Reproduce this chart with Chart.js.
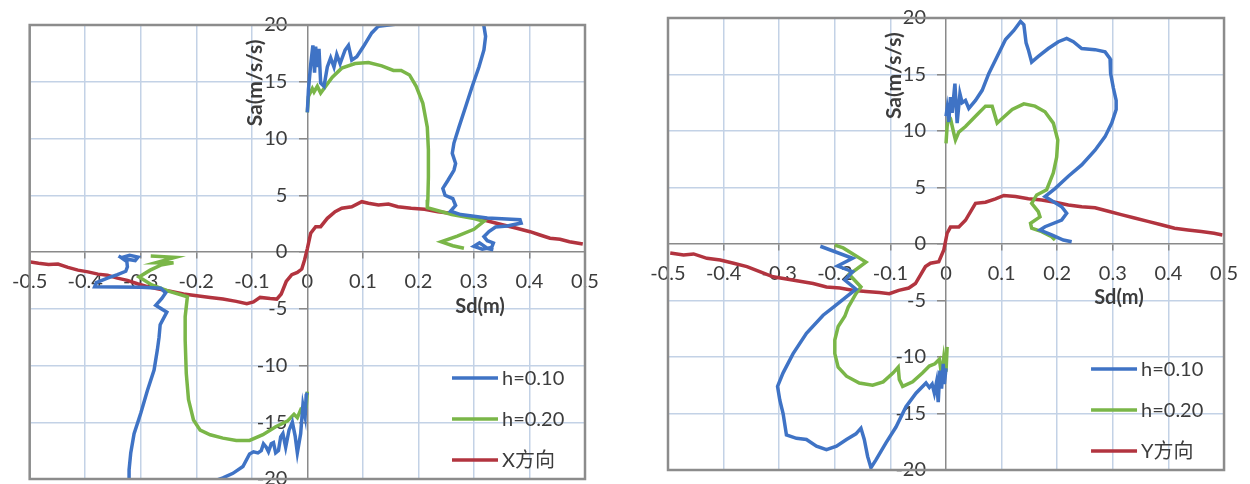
<!DOCTYPE html>
<html>
<head>
<meta charset="utf-8">
<script src="https://cdn.jsdelivr.net/npm/chart.js@4/dist/chart.umd.min.js"></script>
<style>
  html, body { margin: 0; padding: 0; background: #fff; overflow: hidden; width: 1250px; height: 484px; }
  .panel { position: absolute; top: 0; width: 625px; height: 500px; }
  #panelX { left: 0; }
  #panelY { left: 625px; }
</style>
</head>
<body>
<div class="panel" id="panelX"><canvas id="chartX" width="625" height="500"></canvas></div>
<div class="panel" id="panelY"><canvas id="chartY" width="625" height="500"></canvas></div>
<script>
// ---- axis text ----
const xTickLabels = ['-0.5', '-0.4', '-0.3', '-0.2', '-0.1', '0', '0.1', '0.2', '0.3', '0.4', '0.5'];
const yTickLabels = ['-20', '-15', '-10', '-5', '0', '5', '10', '15', '20'];
const sdTitle = 'Sd(m)';
const saTitle = 'Sa(m/s/s)';
const seriesNamesX = ['h=0.10', 'h=0.20', 'X方向'];
const seriesNamesY = ['h=0.10', 'h=0.20', 'Y方向'];

// ---- X direction: demand spectra [Sd (m), Sa (m/s/s)] ----
const xH010Pos = [[0.000,12.3],[0.002,14.3],[0.006,16.5],[0.010,18.2],[0.013,15.8],[0.015,18.1],[0.018,16.3],[0.021,17.9],[0.024,14.9],[0.030,14.6],[0.036,16.3],[0.042,17.1],[0.048,16.3],[0.053,17.4],[0.059,16.6],[0.068,17.8],[0.074,18.2],[0.080,16.9],[0.089,17.2],[0.101,18.1],[0.116,19.3],[0.128,19.9],[0.157,20.05],[0.165,20.5]];
const xH010PosTail = [[0.316,20.5],[0.321,19.0],[0.318,17.8],[0.309,16.3],[0.297,14.6],[0.285,12.8],[0.273,11.0],[0.264,9.6],[0.261,8.7],[0.267,7.8],[0.264,7.2],[0.253,6.3],[0.244,5.6],[0.248,5.0],[0.262,4.7],[0.267,4.1],[0.258,3.6],[0.276,3.3],[0.324,3.0],[0.383,2.85],[0.385,2.55],[0.360,2.3],[0.339,2.2],[0.327,1.8],[0.318,1.35],[0.324,1.0],[0.335,0.8],[0.332,0.4],[0.315,0.25],[0.300,0.5],[0.310,0.8],[0.325,0.3],[0.335,0.2]];
const xH010Neg = [[0.000,-12.4],[-0.002,-12.6],[-0.004,-14.5],[-0.008,-13.5],[-0.012,-16.0],[-0.018,-17.7],[-0.022,-16.2],[-0.027,-15.0],[-0.033,-15.7],[-0.039,-17.2],[-0.044,-16.0],[-0.048,-16.3],[-0.052,-17.5],[-0.057,-17.7],[-0.061,-16.8],[-0.065,-16.9],[-0.070,-17.6],[-0.074,-17.2],[-0.079,-16.9],[-0.083,-17.5],[-0.089,-17.7],[-0.097,-17.6],[-0.104,-17.8],[-0.116,-18.9],[-0.134,-19.5],[-0.152,-19.9],[-0.163,-20.1],[-0.170,-20.4]];
const xH010NegTail = [[-0.321,-20.4],[-0.321,-19.2],[-0.318,-17.7],[-0.312,-16.0],[-0.300,-14.2],[-0.288,-12.2],[-0.276,-10.4],[-0.270,-8.6],[-0.267,-7.5],[-0.265,-6.4],[-0.253,-5.3],[-0.273,-4.7],[-0.262,-4.1],[-0.255,-3.6],[-0.264,-3.2],[-0.300,-3.1],[-0.383,-3.06],[-0.380,-2.7],[-0.360,-2.3],[-0.342,-2.0],[-0.327,-1.7],[-0.324,-1.3],[-0.325,-0.85],[-0.335,-0.5],[-0.320,-0.3],[-0.305,-0.45],[-0.310,-0.75],[-0.330,-0.6],[-0.340,-0.35]];
const xH020Pos = [[0.000,12.3],[0.002,13.7],[0.009,14.4],[0.012,14.1],[0.018,14.6],[0.024,14.0],[0.033,14.6],[0.045,15.4],[0.062,16.2],[0.086,16.6],[0.110,16.7],[0.134,16.4],[0.155,16.0],[0.169,16.0],[0.184,15.6],[0.196,14.6],[0.208,13.1],[0.216,11.0],[0.218,9.0],[0.218,6.6],[0.217,4.6],[0.216,3.9],[0.260,3.3],[0.300,2.95],[0.318,2.7],[0.300,2.0],[0.270,1.4],[0.241,0.9],[0.262,0.55],[0.282,0.33]];
const xH020Neg = [[0.000,-12.3],[-0.002,-13.6],[-0.006,-14.2],[-0.012,-13.9],[-0.018,-14.6],[-0.024,-14.3],[-0.036,-14.9],[-0.057,-15.4],[-0.080,-16.1],[-0.104,-16.6],[-0.128,-16.6],[-0.152,-16.4],[-0.175,-16.1],[-0.193,-15.7],[-0.205,-14.8],[-0.214,-13.0],[-0.218,-10.7],[-0.220,-7.75],[-0.220,-5.7],[-0.216,-3.94],[-0.250,-3.45],[-0.280,-2.9],[-0.303,-2.2],[-0.283,-1.6],[-0.264,-1.15],[-0.241,-0.94],[-0.273,-0.94],[-0.238,-0.47],[-0.282,-0.35]];
// X direction capacity curve
const xCapacity = [[-0.502,-0.85],[-0.484,-1.0],[-0.466,-1.1],[-0.449,-1.06],[-0.431,-1.35],[-0.413,-1.6],[-0.395,-1.75],[-0.377,-1.95],[-0.360,-2.05],[-0.342,-2.3],[-0.324,-2.5],[-0.306,-2.8],[-0.288,-3.05],[-0.270,-3.25],[-0.247,-3.45],[-0.223,-3.7],[-0.199,-3.85],[-0.175,-4.0],[-0.152,-4.15],[-0.128,-4.35],[-0.109,-4.55],[-0.097,-4.4],[-0.085,-4.0],[-0.067,-4.1],[-0.055,-4.15],[-0.047,-3.7],[-0.038,-2.6],[-0.028,-2.0],[-0.018,-1.8],[-0.010,-1.5],[-0.005,-0.7],[0.000,0.3],[0.006,1.65],[0.015,2.23],[0.024,2.23],[0.036,2.97],[0.050,3.55],[0.062,3.85],[0.080,3.99],[0.098,4.43],[0.110,4.29],[0.128,4.14],[0.146,4.23],[0.163,3.99],[0.187,3.85],[0.211,3.76],[0.235,3.55],[0.258,3.41],[0.282,3.17],[0.306,2.97],[0.330,2.67],[0.353,2.38],[0.377,2.09],[0.401,1.79],[0.419,1.5],[0.437,1.21],[0.455,1.12],[0.472,0.91],[0.496,0.7]];

// ---- Y direction: demand spectra ----
const yH010Pos = [[0.000,11.3],[0.002,12.0],[0.005,10.8],[0.008,13.0],[0.011,11.6],[0.016,14.2],[0.020,10.7],[0.025,13.3],[0.029,12.5],[0.035,12.7],[0.041,12.0],[0.053,12.7],[0.065,13.6],[0.077,15.1],[0.092,16.6],[0.107,18.1],[0.122,18.9],[0.134,19.7],[0.140,19.4],[0.144,17.8],[0.148,17.2],[0.154,16.1],[0.166,16.6],[0.184,17.3],[0.202,17.9],[0.217,18.2],[0.229,17.9],[0.244,17.3],[0.268,17.2],[0.286,17.0],[0.295,16.4],[0.296,15.1],[0.301,13.8],[0.306,12.7],[0.306,11.9],[0.298,10.7],[0.286,9.5],[0.268,8.3],[0.244,7.0],[0.220,6.0],[0.196,4.9],[0.178,4.2],[0.208,3.3],[0.217,2.72],[0.208,2.12],[0.178,1.53],[0.169,1.24],[0.190,0.8],[0.211,0.35],[0.226,0.2]];
const yH010Neg = [[0.000,-11.0],[-0.003,-12.4],[-0.005,-10.6],[-0.008,-12.8],[-0.011,-11.2],[-0.014,-14.0],[-0.017,-12.2],[-0.021,-13.2],[-0.025,-12.4],[-0.030,-12.7],[-0.036,-12.3],[-0.054,-13.2],[-0.072,-14.4],[-0.090,-16.2],[-0.108,-17.6],[-0.126,-19.1],[-0.135,-19.8],[-0.141,-18.8],[-0.147,-17.3],[-0.153,-16.3],[-0.162,-16.8],[-0.179,-17.3],[-0.197,-17.9],[-0.215,-18.2],[-0.233,-17.9],[-0.251,-17.3],[-0.269,-17.2],[-0.287,-16.9],[-0.293,-15.0],[-0.299,-13.8],[-0.303,-12.6],[-0.293,-11.4],[-0.275,-9.7],[-0.251,-7.9],[-0.221,-6.3],[-0.203,-5.6],[-0.162,-4.0],[-0.182,-3.2],[-0.168,-2.45],[-0.195,-1.95],[-0.168,-1.27],[-0.226,-0.2]];
const yH020Pos = [[0.000,8.9],[0.002,10.4],[0.005,11.3],[0.008,11.1],[0.014,9.8],[0.017,9.2],[0.023,9.9],[0.035,10.4],[0.053,11.3],[0.071,12.2],[0.083,12.2],[0.092,10.7],[0.101,11.1],[0.119,11.9],[0.140,12.4],[0.160,12.2],[0.178,11.7],[0.193,10.7],[0.201,9.2],[0.199,7.7],[0.193,6.3],[0.181,4.8],[0.163,4.34],[0.154,3.6],[0.166,2.86],[0.169,2.4],[0.152,1.83],[0.154,1.4],[0.172,1.09],[0.190,0.65],[0.196,0.35]];
const yH020Neg = [[0.002,-9.1],[0.000,-11.3],[-0.004,-10.0],[-0.008,-11.6],[-0.012,-10.2],[-0.020,-10.6],[-0.030,-10.8],[-0.042,-11.4],[-0.060,-12.2],[-0.078,-12.6],[-0.084,-12.0],[-0.086,-10.9],[-0.095,-11.4],[-0.113,-12.2],[-0.132,-12.5],[-0.156,-12.3],[-0.179,-11.7],[-0.194,-10.9],[-0.200,-9.7],[-0.200,-8.5],[-0.194,-7.3],[-0.182,-6.4],[-0.176,-5.6],[-0.162,-4.4],[-0.153,-3.8],[-0.174,-2.7],[-0.144,-1.6],[-0.185,-0.35],[-0.200,-0.1]];
// Y direction capacity curve
const yCapacity = [[-0.496,-0.8],[-0.472,-0.97],[-0.454,-0.88],[-0.430,-1.27],[-0.406,-1.42],[-0.382,-1.71],[-0.358,-2.0],[-0.335,-2.45],[-0.311,-2.9],[-0.287,-3.1],[-0.263,-3.3],[-0.239,-3.5],[-0.215,-3.8],[-0.191,-3.9],[-0.168,-4.1],[-0.144,-4.2],[-0.120,-4.3],[-0.102,-4.4],[-0.085,-4.1],[-0.067,-3.9],[-0.055,-3.5],[-0.037,-2.0],[-0.028,-1.7],[-0.013,-1.57],[-0.004,-0.53],[0.002,0.95],[0.008,1.5],[0.023,1.5],[0.035,2.1],[0.053,3.6],[0.071,3.7],[0.089,4.0],[0.104,4.3],[0.125,4.2],[0.148,4.0],[0.172,3.9],[0.196,3.7],[0.220,3.45],[0.244,3.3],[0.268,3.2],[0.292,2.9],[0.315,2.6],[0.339,2.3],[0.363,2.0],[0.387,1.7],[0.411,1.4],[0.435,1.24],[0.459,1.1],[0.482,0.95],[0.497,0.8]];

// ---- styling ----
const BLUE = '#3f73c5';
const GREEN = '#7ab648';
const RED = '#b2343f';
const GRID = '#c3d2e6';
const AXIS = '#8a8a8a';
const TEXT = '#3c3c3c';
const FONT = 'Lato, "Noto Sans CJK SC", sans-serif';

// join branches of one curve, leaving a break between them
function joinBranches(...branches) {
  const out = [];
  branches.forEach((b, i) => {
    if (i > 0) out.push({ x: null, y: null });
    b.forEach(([x, y]) => out.push({ x, y }));
  });
  return out;
}

function lineSet(label, color, data) {
  return {
    label, data, borderColor: color, backgroundColor: color,
    borderWidth: 3.5, pointRadius: 0, tension: 0, spanGaps: false, fill: false
  };
}

// Sa tick labels sit left of the centred vertical axis, clear of its tick marks
const saLabelsPlugin = {
  id: 'saLabels',
  beforeDatasetsDraw(chart) {
    const { ctx, scales } = chart;
    const xs = scales.x, ys = scales.y;
    const x = xs.getPixelForValue(0) - 20;
    ctx.save();
    ctx.fillStyle = TEXT;
    ctx.font = '20px ' + FONT;
    ctx.textAlign = 'right';
    ctx.textBaseline = 'middle';
    ys.ticks.forEach((t, i) => ctx.fillText(yTickLabels[i], x, ys.getPixelForValue(t.value)));
    ctx.restore();
  }
};

// plot frame, axis titles and the legend box inside the plot
const decorPlugin = {
  id: 'decor',
  afterDraw(chart) {
    const { ctx, chartArea: a, scales } = chart;
    const xs = scales.x, ys = scales.y;
    ctx.save();
    ctx.strokeStyle = '#8c8c8c';
    ctx.lineWidth = 2.5;
    ctx.strokeRect(a.left, a.top, a.right - a.left, a.bottom - a.top);

    ctx.fillStyle = TEXT;
    ctx.font = 'bold 20px ' + FONT;
    ctx.textAlign = 'center';
    ctx.textBaseline = 'middle';
    ctx.fillText(sdTitle, xs.getPixelForValue(0.311), ys.getPixelForValue(-4.77));
    ctx.save();
    ctx.translate(xs.getPixelForValue(-0.093), ys.getPixelForValue(14.9));
    ctx.rotate(-Math.PI / 2);
    ctx.font = 'bold 21px ' + FONT;
    ctx.fillText(saTitle, 0, 0);
    ctx.restore();

    ctx.font = '20px ' + FONT;
    ctx.textAlign = 'left';
    const x0 = a.right - 133;
    const y0 = a.bottom - 101;
    chart.data.datasets.forEach((ds, i) => {
      const y = y0 + i * 41;
      ctx.strokeStyle = ds.borderColor;
      ctx.lineWidth = 3.5;
      ctx.beginPath();
      ctx.moveTo(x0, y);
      ctx.lineTo(x0 + 46, y);
      ctx.stroke();
      ctx.fillStyle = TEXT;
      ctx.fillText(ds.label, x0 + 50, y + 1);
    });
    ctx.restore();
  }
};

function makeChart(id, names, h010, h020, capacity, padding) {
  const gridColor = (c) => (c.tick && Math.abs(c.tick.value) < 1e-9) ? 'rgba(0,0,0,0)' : GRID;
  return new Chart(document.getElementById(id), {
    type: 'line',
    data: {
      datasets: [
        lineSet(names[0], BLUE, h010),
        lineSet(names[1], GREEN, h020),
        lineSet(names[2], RED, capacity)
      ]
    },
    options: {
      responsive: false,
      animation: false,
      devicePixelRatio: 1,
      layout: { padding },
      plugins: { legend: { display: false }, tooltip: { enabled: false } },
      scales: {
        x: {
          type: 'linear', min: -0.5, max: 0.5, position: { y: 0 },
          grid: { color: gridColor, lineWidth: 1.5, tickColor: AXIS, tickLength: 6, tickWidth: 1.5 },
          border: { display: true, color: AXIS, width: 1.5 },
          ticks: {
            stepSize: 0.1, autoSkip: false, maxRotation: 0, padding: 12,
            color: TEXT, font: { family: FONT, size: 20 },
            callback: (v, i) => xTickLabels[i]
          }
        },
        y: {
          type: 'linear', min: -20, max: 20, position: { x: 0 },
          grid: { color: gridColor, lineWidth: 1.5, tickColor: AXIS, tickLength: 8, tickWidth: 1.5 },
          border: { display: true, color: AXIS, width: 1.5 },
          ticks: { stepSize: 5, display: false }
        }
      }
    },
    plugins: [saLabelsPlugin, decorPlugin]
  });
}

makeChart('chartX', seriesNamesX,
  joinBranches(xH010Pos, xH010PosTail, xH010Neg, xH010NegTail),
  joinBranches(xH020Pos, xH020Neg),
  joinBranches(xCapacity),
  { left: 24, top: 25, right: 40, bottom: 21 });

makeChart('chartY', seriesNamesY,
  joinBranches(yH010Pos, yH010Neg),
  joinBranches(yH020Pos, yH020Neg),
  joinBranches(yCapacity),
  { left: 43, top: 18, right: 23, bottom: 30 });
</script>
</body>
</html>
